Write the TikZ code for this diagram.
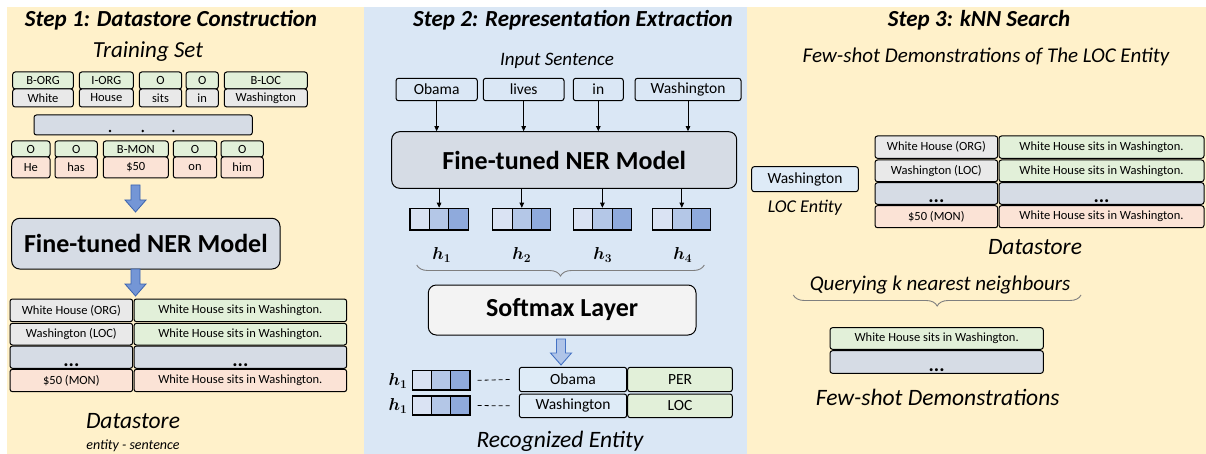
\documentclass[tikz,border=0pt]{standalone}
\usepackage{fontspec}
\setmainfont{Carlito}
\usetikzlibrary{decorations.pathreplacing,arrows.meta,calc}
\definecolor{beige}{HTML}{FFF1CA}
\definecolor{paleblue}{HTML}{DAE7F5}
\definecolor{lgreen}{HTML}{E2F0D9}
\definecolor{lgray}{HTML}{E9E9E9}
\definecolor{slate}{HTML}{D6DCE5}
\definecolor{peach}{HTML}{FBE3D6}
\definecolor{boxblue}{HTML}{DEEBF7}
\definecolor{vecA}{HTML}{DAE3F3}
\definecolor{vecB}{HTML}{B4C7E7}
\definecolor{vecC}{HTML}{8FAADC}
\definecolor{arrfill}{HTML}{7496D6}
\definecolor{arrdraw}{HTML}{3A62AD}
\definecolor{arrlight}{HTML}{AFC4E8}
\definecolor{arrlightdraw}{HTML}{4472C4}
\definecolor{softfill}{HTML}{F3F3F3}
\definecolor{bracegray}{HTML}{7F7F7F}
\newcommand{\BlkArr}[4]{%
\draw[#1] ({#2-4.5},#3) -- ({#2+4.5},#3) -- ({#2+4.5},{#4-12}) -- ({#2+10.5},{#4-12}) -- (#2,#4) -- ({#2-10.5},{#4-12}) -- ({#2-4.5},{#4-12}) -- cycle;}
\begin{document}
\begin{tikzpicture}[x=1pt,y=-1pt,
  rect/.style n args={4}{at={({((#1)+(#3))/2},{((#2)+(#4))/2})}, anchor=center,
     minimum width={((#3)-(#1))*1pt}, minimum height={((#4)-(#2))*1pt}},
  box/.style={draw=black, line width=1pt, rounded corners=2.5pt, inner sep=0pt},
  tok/.style={box, font=\fontsize{12.5}{14}\selectfont},
  cell/.style={box, font=\fontsize{12.5}{14}\selectfont},
  inp/.style={box, font=\fontsize{15.5}{17}\selectfont},
  big/.style={box, rounded corners=8pt, font=\fontsize{26}{28}\selectfont\bfseries},
  vcell/.style={draw=black, line width=1.1pt, inner sep=0pt},
  title/.style={font=\fontsize{23}{26}\selectfont\bfseries\itshape},
  ital/.style={font=\fontsize{#1}{#1}\selectfont\itshape},
  arr/.style={line width=0.8pt, -{Triangle[length=5pt,width=4.5pt]}},
  blk/.style={fill=arrfill, draw=arrdraw, line width=0.8pt},
  blklight/.style={fill=arrlight, draw=arrlightdraw, line width=0.9pt},
  brc/.style={draw=bracegray, line width=0.9pt, decorate, decoration={brace, mirror, amplitude=11pt}},
  hlab/.style={font=\fontsize{17}{17}\selectfont\boldmath},
  dotrow/.style={label={[font=\fontsize{20}{20}\selectfont\bfseries, anchor=base, inner sep=0pt, yshift=2.5pt]south:...}}
]
\useasboundingbox (0,0) rectangle (1206,454);
\fill[white] (0,0) rectangle (1206,454);
\fill[beige] (7,7) rectangle (364,454);
\fill[paleblue] (364,7) rectangle (747,454);
\fill[beige] (747,7) rectangle (1206,454);

% ---------------- Step 1 ----------------
\node[title] (t1) at (171,20) {Step 1: Datastore Construction};
\node[ital=23] (train) at (148,52) {Training Set};

\node[tok, fill=lgreen, rect={12.7}{72}{73.3}{89}] (l11) {B-ORG};
\node[tok, fill=lgray, rect={12.7}{89}{73.3}{107}] (w11) {White};
\node[tok, fill=lgreen, rect={79.3}{72}{133.3}{89}] (l12) {I-ORG};
\node[tok, fill=lgray, rect={79.3}{89}{133.3}{107}] (w12) {House};
\node[tok, fill=lgreen, rect={139.3}{72}{181.7}{89}] (l13) {O};
\node[tok, fill=lgray, rect={139.3}{89}{181.7}{107}] (w13) {sits};
\node[tok, fill=lgreen, rect={186}{72}{218.3}{89}] (l14) {O};
\node[tok, fill=lgray, rect={186}{89}{218.3}{107}] (w14) {in};
\node[tok, fill=lgreen, rect={224.3}{72}{307.3}{89}] (l15) {B-LOC};
\node[tok, fill=lgray, rect={224.3}{89}{307.3}{107}] (w15) {Washington};

\node[box, fill=slate, rect={34}{115}{252.3}{135}] (bar) {};
\fill (110,131) circle (1.3pt);
\fill (142.7,131) circle (1.3pt);
\fill (173.3,131) circle (1.3pt);

\node[tok, fill=lgreen, rect={11.7}{141}{50}{157}] (l21) {O};
\node[tok, fill=peach, rect={11.7}{157}{50}{178}] (w21) {He};
\node[tok, fill=lgreen, rect={55}{141}{97.3}{157}] (l22) {O};
\node[tok, fill=peach, rect={55}{157}{97.3}{178}] (w22) {has};
\node[tok, fill=lgreen, rect={103.3}{141}{168.3}{157}] (l23) {B-MON};
\node[tok, fill=peach, rect={103.3}{157}{168.3}{178}] (w23) {\$50};
\node[tok, fill=lgreen, rect={173.3}{141}{216.7}{157}] (l24) {O};
\node[tok, fill=peach, rect={173.3}{157}{216.7}{178}] (w24) {on};
\node[tok, fill=lgreen, rect={221}{141}{263.3}{157}] (l25) {O};
\node[tok, fill=peach, rect={221}{157}{263.3}{178}] (w25) {him};

\BlkArr{blk}{135.5}{185}{212}
\node[big, fill=slate, rect={11.7}{218.3}{280}{269}] (ner1) {Fine-tuned NER Model};
\BlkArr{blk}{135.5}{269}{296}

\node[cell, fill=lgray, rect={10}{299}{132.7}{321.7}] (da1) {White House (ORG)};
\node[cell, fill=lgreen, rect={134}{299}{346.7}{321.7}] (db1) {White House sits in Washington.};
\node[cell, fill=lgray, rect={10}{323.3}{132.7}{345}] (da2) {Washington (LOC)};
\node[cell, fill=lgreen, rect={134}{323.3}{346.7}{345}] (db2) {White House sits in Washington.};
\node[cell, fill=slate, dotrow, rect={10}{346}{132.7}{368.3}] (da3) {};
\node[cell, fill=slate, dotrow, rect={134}{346}{346.7}{368.3}] (db3) {};
\node[cell, fill=peach, rect={10}{369.3}{132.7}{391.7}] (da4) {\$50 (MON)};
\node[cell, fill=peach, rect={134}{369.3}{346.7}{391.7}] (db4) {White House sits in Washington.};

\node[ital=23.5] (ds1) at (133,421) {Datastore};
\node[ital=14] (es) at (133,446) {entity - sentence};

% ---------------- Step 2 ----------------
\node[title] (t2) at (573,20) {Step 2: Representation Extraction};
\node[ital=19] (insent) at (557,61) {Input Sentence};

\node[inp, rect={396}{78.3}{477.3}{100.7}] (i1) {Obama};
\node[inp, rect={483.3}{78.3}{564}{100.7}] (i2) {lives};
\node[inp, rect={573.3}{78.3}{623.3}{100.7}] (i3) {in};
\node[inp, rect={635}{78.3}{741}{100.7}] (i4) {Washington};

\node[big, fill=slate, rect={391.7}{131.7}{736.7}{188.3}] (ner2) {Fine-tuned NER Model};

\foreach \i in {1,2,3,4} {\draw[arr] (i\i.south) -- (i\i.south |- ner2.north);}

\foreach \n/\x in {1/410, 2/492.7, 3/573.3, 4/652.7} {
  \node[vcell, fill=vecA, rect={\x}{208.3}{\x+19.4}{230}] (v\n a) {};
  \node[vcell, fill=vecB, rect={\x+19.4}{208.3}{\x+38.8}{230}] (v\n b) {};
  \node[vcell, fill=vecC, rect={\x+38.8}{208.3}{\x+58.2}{230}] (v\n c) {};
  \draw[arr] (v\n b.north |- ner2.south) -- (v\n b.north);
}
\node[hlab] (h1) at (441.7,255) {$h_1$};
\node[hlab] (h2) at (521.7,255) {$h_2$};
\node[hlab] (h3) at (602.7,255) {$h_3$};
\node[hlab] (h4) at (682.7,255) {$h_4$};

\coordinate (bl1) at (416.7,265);
\coordinate (br1) at (704.3,265);
\draw[brc] (bl1) -- (br1);

\node[big, fill=softfill, rect={428.3}{285}{696}{335}] (soft) {Softmax Layer};
\BlkArr{blklight}{561}{339}{365}

\node[hlab] (hb1) at (398,381) {$h_1$};
\node[hlab] (hb2) at (398,406) {$h_1$};
\foreach \n/\ya/\yb in {1/370.7/390, 2/396/415} {
  \node[vcell, fill=vecA, rect={412.7}{\ya}{431.8}{\yb}] (u\n a) {};
  \node[vcell, fill=vecB, rect={431.8}{\ya}{450.9}{\yb}] (u\n b) {};
  \node[vcell, fill=vecC, rect={450.9}{\ya}{470}{\yb}] (u\n c) {};
}
\node[cell, fill=boxblue, font=\fontsize{15.5}{17}\selectfont, rect={519.3}{367.3}{626.7}{391.7}] (r1a) {Obama};
\node[cell, fill=lgreen, font=\fontsize{15.5}{17}\selectfont, rect={627.7}{367.3}{732.3}{391.7}] (r1b) {PER};
\node[cell, fill=boxblue, font=\fontsize{15.5}{17}\selectfont, rect={519.3}{394}{626.7}{417.7}] (r2a) {Washington};
\node[cell, fill=lgreen, font=\fontsize{15.5}{17}\selectfont, rect={627.7}{394}{732.3}{417.7}] (r2b) {LOC};
\draw[line width=0.8pt, dash pattern=on 4pt off 3pt] ($(u1c.east)+(7,0)$) -- ($(r1a.west)-(9,0)$);
\draw[line width=0.8pt, dash pattern=on 4pt off 3pt] ($(u2c.east)+(7,0)$) -- ($(r2a.west)-(9,0)$);

\node[ital=23.5] (recog) at (560,441) {Recognized Entity};

% ---------------- Step 3 ----------------
\node[title] (t3) at (979,20) {Step 3: kNN Search};
\node[ital=21] (fsh) at (986,57) {Few-shot Demonstrations of The LOC Entity};

\node[inp, fill=boxblue, rect={751.7}{166.7}{858.3}{191.7}] (wq) {Washington};
\node[ital=18] (loce) at (805,208) {LOC Entity};

\node[cell, fill=lgray, rect={875}{136}{997.7}{158.3}] (ea1) {White House (ORG)};
\node[cell, fill=lgreen, rect={999}{136}{1204}{158.3}] (eb1) {White House sits in Washington.};
\node[cell, fill=lgray, rect={875}{160}{997.7}{181.7}] (ea2) {Washington (LOC)};
\node[cell, fill=lgreen, rect={999}{160}{1204}{181.7}] (eb2) {White House sits in Washington.};
\node[cell, fill=slate, dotrow, rect={875}{182.7}{997.7}{204.3}] (ea3) {};
\node[cell, fill=slate, dotrow, rect={999}{182.7}{1204}{204.3}] (eb3) {};
\node[cell, fill=peach, rect={875}{205.7}{997.7}{227.7}] (ea4) {\$50 (MON)};
\node[cell, fill=peach, rect={999}{205.7}{1204}{227.7}] (eb4) {White House sits in Washington.};

\node[ital=23.5] (ds2) at (1035,247) {Datastore};
\node[ital=21] (query) at (940,285) {Querying k nearest neighbours};
\coordinate (bl2) at (793.3,295);
\coordinate (br2) at (1081,295);
\draw[brc] (bl2) -- (br2);

\node[cell, fill=lgreen, rect={830}{327.7}{1043.3}{349.3}] (f1) {White House sits in Washington.};
\node[cell, fill=slate, dotrow, rect={830}{350.7}{1043.3}{373.3}] (f2) {};
\node[ital=23.5] (fsd) at (937.7,397) {Few-shot Demonstrations};
\end{tikzpicture}
\end{document}
